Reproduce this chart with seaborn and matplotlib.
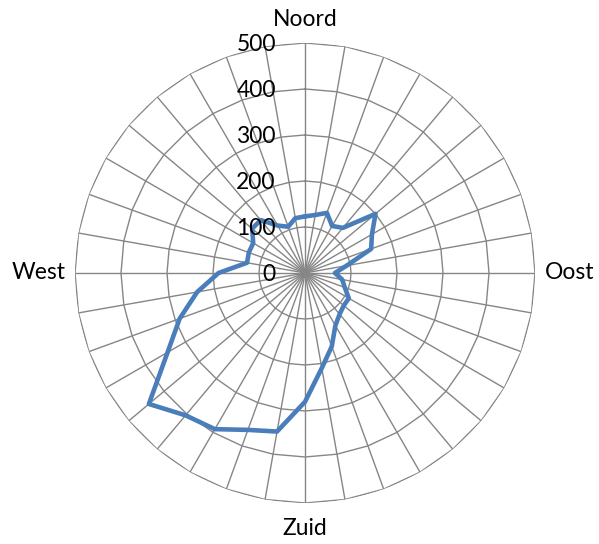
import numpy as np
import pandas as pd
import matplotlib
matplotlib.use('Agg')
import matplotlib.pyplot as plt
import seaborn as sns

# richtingen: 36 sectoren van 10 graden, met de klok mee vanaf noord
richting_graden = list(range(0, 360, 10))
waarden = [123, 128, 139, 118, 128, 200, 168, 153, 92, 65,
           82, 92, 110, 110, 117, 132, 170, 210, 280, 350,
           363, 392, 404, 443, 345, 290, 238, 188, 128, 130,
           130, 150, 150, 119, 107, 121]
windstreken = {0: 'Noord', 90: 'Oost', 180: 'Zuid', 270: 'West'}
ring_waarden = [0, 100, 200, 300, 400, 500]

sns.set_theme(style='white')
plt.rcParams['font.family'] = ['Lato', 'DejaVu Sans']

theta = np.deg2rad(richting_graden)
df = pd.DataFrame({'theta': np.append(theta, theta[0]),
                   'waarde': waarden + [waarden[0]]})

fig = plt.figure(figsize=(5.99, 5.44), dpi=100)
ax = fig.add_axes([0.1252, 0.0754, 0.768, 0.8456], projection='polar')
ax.set_theta_zero_location('N')
ax.set_theta_direction(-1)

grijs = '#868686'

# veelhoekige ringen zoals in Excel
ring_theta = np.append(theta, theta[0])
for r in ring_waarden[1:]:
    ax.plot(ring_theta, [r] * len(ring_theta), color=grijs, lw=1.0, zorder=1)

sns.lineplot(data=df, x='theta', y='waarde', sort=False, estimator=None,
             color='#4A7EBB', lw=3.3, ax=ax, zorder=3)
ax.lines[-1].set_solid_joinstyle('round')

ax.set_ylim(0, 500)
ax.set_yticks(ring_waarden)
ax.set_yticklabels([])
ax.yaxis.grid(False)
ax.set_xticks(theta)
ax.set_xticklabels([])
ax.xaxis.grid(True, color=grijs, lw=1.0)
ax.spines['polar'].set_visible(False)
ax.set_xlabel('')
ax.set_ylabel('')

# as-labels links van de noordas
for r in ring_waarden:
    ax.annotate(str(r), xy=(0, r), xytext=(-21, -1), textcoords='offset points',
                ha='right', va='center', fontsize=16.5, color='black')

# windrichtingen
plaats = {0: ((0, 9), 'center', 'bottom'), 90: ((7, 0), 'left', 'center'),
          180: ((0, -11), 'center', 'top'), 270: ((-7, 0), 'right', 'center')}
for graden, naam in windstreken.items():
    offset, ha, va = plaats[graden]
    ax.annotate(naam, xy=(np.deg2rad(graden), 500), xytext=offset,
                textcoords='offset points', ha=ha, va=va, fontsize=16.5,
                color='black', annotation_clip=False)

fig.savefig('out.png', dpi=100)
